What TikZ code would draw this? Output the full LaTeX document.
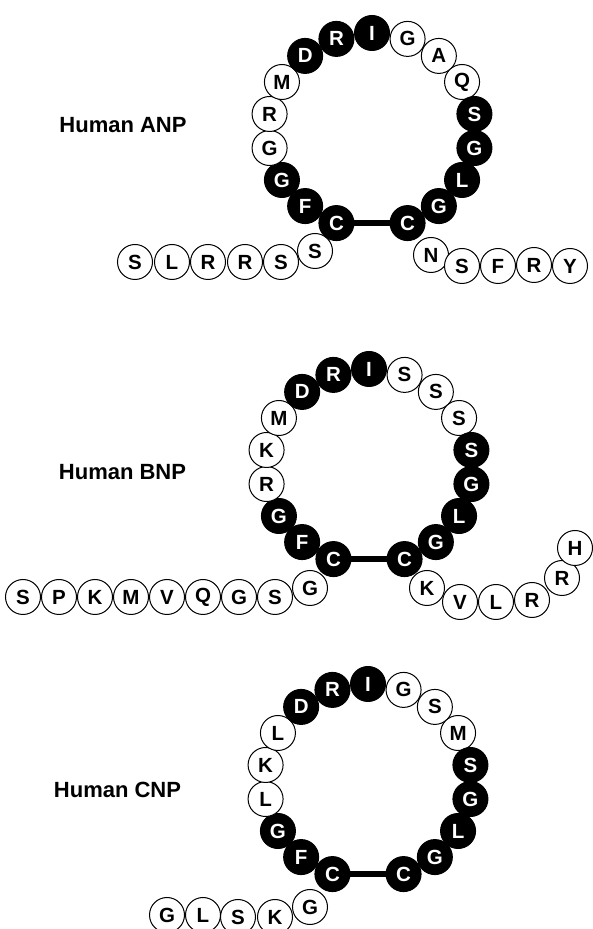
\documentclass[tikz,border=0pt]{standalone}
\usepackage{fontspec}
\setsansfont{Liberation Sans}
\usetikzlibrary{calc}
\tikzset{
	res/.style={circle,draw,line width=1pt,minimum size=35pt,inner sep=0pt,font=\sffamily\bfseries\fontsize{20.5}{20.5}\selectfont},
	pale/.style={res,fill=white},
	dark/.style={res,fill=black,text=white},
	bond/.style={line width=6pt,shorten <=-2pt,shorten >=-2pt},
	title/.style={font=\sffamily\bfseries\fontsize{22}{22}\selectfont}
}
% ring of residues: #1 name prefix, #2 centre, #3 letter/style list
\newcommand{\pepring}[3]{\foreach \ltr/\kind [count=\idx from 0] in {#3} \node[\kind] (#1\idx) at ($(#2)+({104*cos(250-20*\idx)},{98*sin(250-20*\idx)})$) {\ltr};}

\begin{document}
\begin{tikzpicture}[x=1pt,y=1pt]
	\useasboundingbox (0,0) rectangle (593,929);
	\coordinate (anp) at (372,798);
	\coordinate (bnp) at (369,462);
	\coordinate (cnp) at (368,147);

	%ANP
	\node[title] (anplabel) at (123,804) {Human ANP};
	\foreach \ltr/\x/\y [count=\idx] in {S/315/678,S/281/667,R/245/667,R/208/667,L/172/667,S/135/667} \node[pale] (al\idx) at (\x,\y) {\ltr};
	\foreach \ltr/\x/\y [count=\idx] in {N/431/674,S/462/663,F/498/663,R/534/664,Y/570/663} \node[pale] (ar\idx) at (\x,\y) {\ltr};
	\pepring{a}{anp}{C/dark,F/dark,G/dark,G/pale,R/pale,M/pale,D/dark,R/dark,I/dark,G/pale,A/pale,Q/pale,S/dark,G/dark,L/dark,G/dark,C/dark}
	\draw[bond] (a0) -- (a16);

	%BNP
	\node[title] (bnplabel) at (122.5,457) {Human BNP};
	\foreach \ltr/\x/\y [count=\idx] in {G/310/341,S/275/332,G/239/332,Q/203/332,V/167/332,M/131/332,K/95/332,P/59/332,S/23/332} \node[pale] (bl\idx) at (\x,\y) {\ltr};
	\foreach \ltr/\x/\y [count=\idx] in {K/427/341,V/460/327,L/496/327,R/532/329,R/562/351,H/575/381} \node[pale] (br\idx) at (\x,\y) {\ltr};
	\pepring{b}{bnp}{C/dark,F/dark,G/dark,R/pale,K/pale,M/pale,D/dark,R/dark,I/dark,S/pale,S/pale,S/pale,S/dark,G/dark,L/dark,G/dark,C/dark}
	\draw[bond] (b0) -- (b16);

	%CNP
	\node[title] (cnplabel) at (117.5,139) {Human CNP};
	\foreach \ltr/\x/\y [count=\idx] in {G/310/22,K/275/12,S/238/12,L/203/14,G/167/14} \node[pale] (cl\idx) at (\x,\y) {\ltr};
	\pepring{c}{cnp}{C/dark,F/dark,G/dark,L/pale,K/pale,L/pale,D/dark,R/dark,I/dark,G/pale,S/pale,M/pale,S/dark,G/dark,L/dark,G/dark,C/dark}
	\draw[bond] (c0) -- (c16);
\end{tikzpicture}
\end{document}
